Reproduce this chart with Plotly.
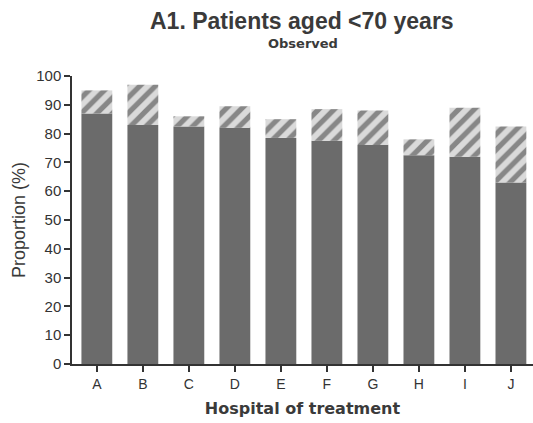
import plotly.graph_objects as go

# Hospitals and observed proportions (%)
hospitals = ["A", "B", "C", "D", "E", "F", "G", "H", "I", "J"]
solid_pct = [87, 83, 82.5, 82, 78.5, 77.5, 76, 72.5, 72, 63]
total_pct = [95, 97, 86, 89.5, 85, 88.5, 88, 78, 89, 82.5]
hatched_pct = [t - s for t, s in zip(total_pct, solid_pct)]

y_ticks = list(range(0, 101, 10))

fig = go.Figure()

fig.add_trace(go.Bar(
    x=hospitals,
    y=solid_pct,
    marker=dict(color="#6b6b6b", line=dict(width=0)),
    width=0.67,
    showlegend=False,
    hoverinfo="skip",
))

fig.add_trace(go.Bar(
    x=hospitals,
    y=hatched_pct,
    base=solid_pct,
    marker=dict(
        color="#dadada",
        line=dict(width=0),
        pattern=dict(shape="/", fgcolor="#333333", bgcolor="#dadada",
                     size=11, solidity=0.48, fillmode="overlay"),
    ),
    width=0.67,
    showlegend=False,
    hoverinfo="skip",
))

fig.update_layout(
    width=533,
    height=423,
    margin=dict(l=72, r=0, t=76, b=59),
    paper_bgcolor="white",
    plot_bgcolor="white",
    barmode="overlay",
    font=dict(family="Liberation Sans, Arial, sans-serif", color="#333333", size=15),
    annotations=[
        dict(text="<b>A1. Patients aged &lt;70 years</b>", xref="paper", yref="paper",
             x=302, y=21, showarrow=False, xanchor="center", yanchor="middle",
             font=dict(size=23, color="#3a3a3a")),
        dict(text="<b>Observed</b>", xref="paper", yref="paper",
             x=303, y=43, showarrow=False, xanchor="center", yanchor="middle",
             font=dict(family="DejaVu Sans, sans-serif", size=13, color="#3a3a3a")),
    ],
    xaxis=dict(
        range=[-0.54, 9.48],
        showline=True, linecolor="#333333", linewidth=1.5,
        ticks="outside", ticklen=6, tickcolor="#333333", tickwidth=1.5,
        tickfont=dict(size=14, color="#333333"),
        title=dict(text="<b>Hospital of treatment</b>",
                   font=dict(family="DejaVu Sans, sans-serif", size=16, color="#3a3a3a"),
                   standoff=12),
        showgrid=False, zeroline=False,
    ),
    yaxis=dict(
        range=[0, 100],
        tickvals=y_ticks,
        showline=True, linecolor="#333333", linewidth=1.5,
        ticks="outside", ticklen=6, tickcolor="#333333", tickwidth=1.5,
        tickfont=dict(size=15, color="#333333"),
        title=dict(text="Proportion (%)", font=dict(size=18, color="#3a3a3a"), standoff=6),
        showgrid=False, zeroline=False,
    ),
)

# annotation coordinates above are in pixels; convert to paper fractions
plot_w = 533 - 72 - 0
plot_h = 423 - 76 - 59
for ann in fig.layout.annotations:
    px, py = ann.x, ann.y
    ann.x = (px - 72) / plot_w
    ann.y = (423 - 59 - py) / plot_h

fig.write_html("out.html")
